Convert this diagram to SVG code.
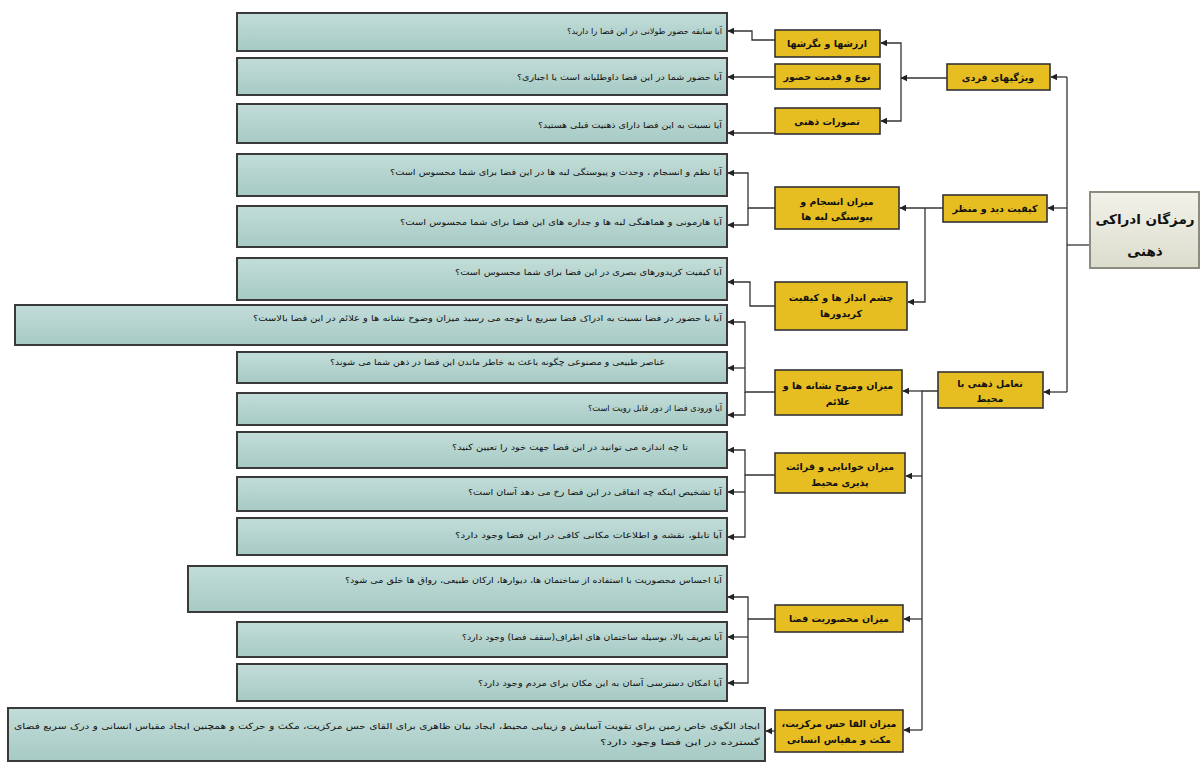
<svg xmlns="http://www.w3.org/2000/svg" width="1200" height="763" viewBox="0 0 1200 763">
<defs>
<linearGradient id="gLeaf" x1="0" y1="0" x2="0" y2="1">
<stop offset="0" stop-color="#c3ddd9"/>
<stop offset="1" stop-color="#a6cac4"/>
</linearGradient>
<linearGradient id="gRoot" x1="0" y1="0" x2="0" y2="1">
<stop offset="0" stop-color="#f2f2ea"/>
<stop offset="1" stop-color="#dcdccd"/>
</linearGradient>
<marker id="ah" viewBox="0 0 10 10" refX="9" refY="5" markerWidth="7" markerHeight="7" markerUnits="userSpaceOnUse" orient="auto">
<path d="M0,0 L10,5 L0,10 z" fill="#222"/>
</marker>
</defs>
<style>
.leaf rect{fill:url(#gLeaf);stroke:#3a3a3a;stroke-width:2}
.leaf text{font-family:"DejaVu Sans",sans-serif;font-size:8.5px;fill:#111;direction:rtl;text-anchor:start}
.yel rect{fill:#e6be22;stroke:#333;stroke-width:1.6}
.yel text{font-family:"DejaVu Sans",sans-serif;font-size:9.5px;font-weight:bold;fill:#111;direction:rtl;text-anchor:middle}
.root rect{fill:url(#gRoot);stroke:#8c8c80;stroke-width:2}
.root text{font-family:"DejaVu Sans",sans-serif;font-size:13.5px;font-weight:bold;fill:#111;direction:rtl;text-anchor:middle}
.con path{fill:none;stroke:#333;stroke-width:1.3}
.con path.a{marker-end:url(#ah)}
</style>
<rect width="1200" height="763" fill="#ffffff"/>

<g id="connectors" class="con">
<path d="M1090,245 H1067"/>
<path d="M1067,77 V392"/>
<path class="a" d="M1067,77 H1051"/>
<path class="a" d="M1067,208 H1048"/>
<path class="a" d="M1067,392 H1044"/>
<path class="a" d="M947,78 H901"/>
<path class="a" d="M901,78 V43 H881"/>
<path class="a" d="M901,78 V121 H881"/>
<path class="a" d="M943,208 H900"/>
<path class="a" d="M925,208 V302 H908"/>
<path d="M938,391 H922 V730"/>
<path class="a" d="M922,391 H903"/>
<path class="a" d="M922,476 H906"/>
<path class="a" d="M922,619 H904"/>
<path class="a" d="M922,730 H904"/>
<path class="a" d="M775,40 H752 V31 H728"/>
<path class="a" d="M775,77 H728"/>
<path class="a" d="M775,133 H728"/>
<path class="a" d="M775,208 H748 V173 H728"/>
<path class="a" d="M748,208 V225 H728"/>
<path class="a" d="M775,306 H750 V282 H728"/>
<path class="a" d="M775,392 H745 V322 H728"/>
<path class="a" d="M745,368 H728"/>
<path class="a" d="M745,392 V415 H728"/>
<path class="a" d="M775,475 H745 V450 H728"/>
<path class="a" d="M745,492 H728"/>
<path class="a" d="M745,475 V537 H728"/>
<path class="a" d="M775,619 H748 V597 H728"/>
<path class="a" d="M748,637 H728"/>
<path class="a" d="M748,619 V683 H728"/>
<path class="a" d="M775,731 H766"/>
</g>

<g id="root" class="root">
<rect x="1090" y="192" width="109" height="76"/>
<text x="1145" y="224">رمزگان ادراکی</text>
<text x="1145" y="256">ذهنی</text>
</g>

<g id="n-fardi" class="yel"><rect x="947" y="64" width="103" height="26"/><text x="998" y="81">ویژگیهای فردی</text></g>
<g id="n-did" class="yel"><rect x="943" y="195" width="104" height="27"/><text x="995" y="212">کیفیت دید و منظر</text></g>
<g id="n-taamol" class="yel"><rect x="938" y="372" width="105" height="36"/><text x="990" y="387">تعامل ذهنی با</text><text x="990" y="402">محیط</text></g>

<g id="n-arzesh" class="yel"><rect x="775" y="30" width="105" height="27"/><text x="827" y="47">ارزشها و نگرشها</text></g>
<g id="n-noe" class="yel"><rect x="775" y="64" width="105" height="25"/><text x="827" y="80">نوع و قدمت حضور</text></g>
<g id="n-tasavor" class="yel"><rect x="775" y="108" width="105" height="26"/><text x="827" y="125">تصورات ذهنی</text></g>
<g id="n-ensejam" class="yel"><rect x="775" y="187" width="124" height="42"/><text x="837" y="205">میزان انسجام و</text><text x="837" y="220">پیوستگی لبه ها</text></g>
<g id="n-cheshm" class="yel"><rect x="775" y="282" width="132" height="48"/><text x="841" y="301">چشم انداز ها و کیفیت</text><text x="841" y="317">کریدورها</text></g>
<g id="n-vozuh" class="yel"><rect x="775" y="370" width="127" height="45"/><text x="838" y="389">میزان وضوح نشانه ها و</text><text x="838" y="405">علائم</text></g>
<g id="n-khanaei" class="yel"><rect x="775" y="453" width="130" height="40"/><text x="840" y="470">میزان خوانایی و قرائت</text><text x="840" y="486">پذیری محیط</text></g>
<g id="n-mahsuriat" class="yel"><rect x="775" y="605" width="128" height="27"/><text x="839" y="622">میزان محصوریت فضا</text></g>
<g id="n-markaziat" class="yel"><rect x="775" y="710" width="128" height="42"/><text x="839" y="727">میزان القا حس مرکزیت،</text><text x="839" y="743">مکث و مقیاس انسانی</text></g>

<g id="l1" class="leaf"><rect x="237" y="13" width="490" height="38"/><text x="722" y="34" textLength="155" lengthAdjust="spacingAndGlyphs">آیا سابقه حضور طولانی در این فضا را دارید؟</text></g>
<g id="l2" class="leaf"><rect x="237" y="58" width="490" height="37"/><text x="722" y="80" textLength="205" lengthAdjust="spacingAndGlyphs">آیا حضور شما در این فضا داوطلبانه است یا اجباری؟</text></g>
<g id="l3" class="leaf"><rect x="237" y="104" width="490" height="39"/><text x="722" y="128" textLength="184" lengthAdjust="spacingAndGlyphs">آیا نسبت به این فضا دارای ذهنیت قبلی هستید؟</text></g>
<g id="l4" class="leaf"><rect x="237" y="154" width="490" height="42"/><text x="722" y="175" textLength="332" lengthAdjust="spacingAndGlyphs">آیا نظم و انسجام ، وحدت و پیوستگی لبه ها در این فضا برای شما محسوس است؟</text></g>
<g id="l5" class="leaf"><rect x="237" y="206" width="490" height="41"/><text x="722" y="225" textLength="322" lengthAdjust="spacingAndGlyphs">آیا هارمونی و هماهنگی لبه ها و جداره های این فضا برای شما محسوس است؟</text></g>
<g id="l6" class="leaf"><rect x="237" y="258" width="490" height="42"/><text x="722" y="275" textLength="267" lengthAdjust="spacingAndGlyphs">آیا کیفیت کریدورهای بصری در این فضا برای شما محسوس است؟</text></g>
<g id="l7" class="leaf"><rect x="15" y="305" width="712" height="40"/><text x="722" y="321" textLength="469" lengthAdjust="spacingAndGlyphs">آیا با حضور در فضا نسبت به ادراک فضا سریع با توجه می رسید میزان وضوح نشانه ها و علائم در این فضا بالاست؟</text></g>
<g id="l8" class="leaf"><rect x="237" y="352" width="490" height="31"/><text x="665" y="365" textLength="335" lengthAdjust="spacingAndGlyphs">عناصر طبیعی و مصنوعی چگونه باعث به خاطر ماندن این فضا در ذهن شما می شوند؟</text></g>
<g id="l9" class="leaf"><rect x="237" y="393" width="490" height="32"/><text x="722" y="411" textLength="134" lengthAdjust="spacingAndGlyphs">آیا ورودی فضا از دور قابل رویت است؟</text></g>
<g id="l10" class="leaf"><rect x="237" y="432" width="490" height="36"/><text x="688" y="450" textLength="236" lengthAdjust="spacingAndGlyphs">تا چه اندازه می توانید در این فضا جهت خود را تعیین کنید؟</text></g>
<g id="l11" class="leaf"><rect x="237" y="477" width="490" height="34"/><text x="722" y="495" textLength="254" lengthAdjust="spacingAndGlyphs">آیا تشخیص اینکه چه اتفاقی در این فضا رخ می دهد آسان است؟</text></g>
<g id="l12" class="leaf"><rect x="237" y="518" width="490" height="37"/><text x="722" y="538" textLength="267" lengthAdjust="spacingAndGlyphs">آیا تابلو، نقشه و اطلاعات مکانی کافی در این فضا وجود دارد؟</text></g>
<g id="l13" class="leaf"><rect x="188" y="566" width="539" height="46"/><text x="722" y="583" textLength="377" lengthAdjust="spacingAndGlyphs">آیا احساس محصوریت با استفاده از ساختمان ها، دیوارها، ارکان طبیعی، رواق ها خلق می شود؟</text></g>
<g id="l14" class="leaf"><rect x="237" y="622" width="490" height="35"/><text x="722" y="640" textLength="260" lengthAdjust="spacingAndGlyphs">آیا تعریف بالا، بوسیله ساختمان های اطراف(سقف فضا) وجود دارد؟</text></g>
<g id="l15" class="leaf"><rect x="237" y="664" width="490" height="37"/><text x="722" y="686" textLength="244" lengthAdjust="spacingAndGlyphs">آیا امکان دسترسی آسان به این مکان برای مردم وجود دارد؟</text></g>
<g id="l16" class="leaf"><rect x="8" y="708" width="757" height="53"/><text x="760" y="729" textLength="746" lengthAdjust="spacingAndGlyphs">ایجاد الگوی خاص زمین برای تقویت آسایش و زیبایی محیط، ایجاد بیان ظاهری برای القای حس مرکزیت، مکث و حرکت و همچنین ایجاد مقیاس انسانی و درک سریع فضای</text><text x="760" y="745" textLength="160" lengthAdjust="spacingAndGlyphs">گسترده در این فضا وجود دارد؟</text></g>
</svg>
